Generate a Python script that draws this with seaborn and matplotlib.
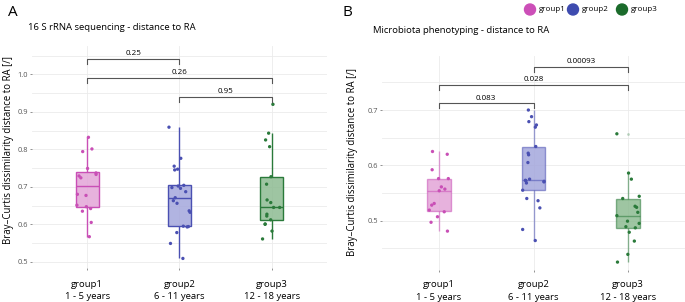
import numpy as np
import pandas as pd
import matplotlib
matplotlib.use("Agg")
import matplotlib.pyplot as plt
from matplotlib.ticker import FixedLocator
import seaborn as sns

# ---------------- data ----------------
groups = ["group1", "group2", "group3"]
tick_labels = ["group1\n1 - 5 years", "group2\n6 - 11 years", "group3\n12 - 18 years"]

a_group1 = [0.832, 0.801, 0.794, 0.749, 0.737, 0.733, 0.729, 0.724, 0.680, 0.677,
            0.651, 0.647, 0.642, 0.635, 0.605, 0.567]
a_group2 = [0.859, 0.776, 0.755, 0.747, 0.745, 0.704, 0.702, 0.698, 0.696, 0.687,
            0.671, 0.663, 0.656, 0.636, 0.632, 0.595, 0.594, 0.593, 0.578, 0.549, 0.509]
a_group3 = [0.920, 0.843, 0.825, 0.807, 0.727, 0.707, 0.665, 0.658, 0.645, 0.645,
            0.627, 0.622, 0.612, 0.601, 0.600, 0.582, 0.561]

b_group1 = [0.625, 0.620, 0.592, 0.576, 0.576, 0.561, 0.557, 0.554, 0.531, 0.528,
            0.519, 0.516, 0.507, 0.497, 0.481]
b_group2 = [0.700, 0.688, 0.679, 0.673, 0.669, 0.634, 0.622, 0.619, 0.605, 0.575,
            0.573, 0.572, 0.571, 0.570, 0.568, 0.555, 0.540, 0.536, 0.523, 0.484, 0.464]
b_group3 = [0.657, 0.586, 0.575, 0.544, 0.540, 0.526, 0.524, 0.515, 0.509, 0.499,
            0.495, 0.489, 0.487, 0.479, 0.463, 0.439, 0.425]

# pairwise p-values: (group i, group j, bracket height, label)
a_pairs = [(0, 1, 1.041, "0.25"), (0, 2, 0.990, "0.26"), (1, 2, 0.940, "0.95")]
b_pairs = [(1, 2, 0.778, "0.00093"), (0, 2, 0.745, "0.028"), (0, 1, 0.712, "0.083")]

titles = ["16 S rRNA sequencing - distance to RA", "Microbiota phenotyping - distance to RA"]
ylabel = "Bray\u2013Curtis dissimilarity distance to RA [/]"

line_colors = ["#C94FB6", "#4A50B2", "#2A7A3A"]
fill_colors = ["#E3A5D8", "#A4A7DC", "#8DBB92"]
legend_colors = ["#CC4FB8", "#3E4BAF", "#1B6B2B"]

FONT = ["Open Sans", "DejaVu Sans"]
plt.rcParams["font.family"] = FONT


def make_df(vals):
    rows = []
    for g, v in zip(groups, vals):
        for x in v:
            rows.append((g, x))
    return pd.DataFrame(rows, columns=["group", "value"])


dfA = make_df([a_group1, a_group2, a_group3])
dfB = make_df([b_group1, b_group2, b_group3])

W, H = 685, 302
fig = plt.figure(figsize=(W / 100, H / 100), dpi=100)
plt.rcParams["font.family"] = FONT


def px_axes(l, t, r, b):
    return fig.add_axes([l / W, 1 - b / H, (r - l) / W, (b - t) / H])


axA = px_axes(32, 46, 327, 268)
axB = px_axes(382, 56, 685, 270)


def draw(ax, df, pairs, ylim, major, minor, edge_alpha, seed, xpad):
    ax.set_facecolor("white")
    ax.set_axisbelow(True)
    n0 = len(ax.lines)
    sns.boxplot(data=df, x="group", y="value", order=groups, hue="group",
                hue_order=groups, palette=fill_colors, width=0.25, ax=ax,
                legend=False, linewidth=1.0, fliersize=2.0, showcaps=False)
    box_lines = ax.lines[n0:]
    per = len(box_lines) // 3
    for gi in range(3):
        for ln in box_lines[gi * per:(gi + 1) * per]:
            ln.set_color(line_colors[gi])
            ln.set_alpha(edge_alpha)
            if ln.get_marker() not in (None, "", "None"):
                ln.set_markerfacecolor(line_colors[gi])
                ln.set_markeredgecolor("none")
                ln.set_alpha(0.3)
    for gi, patch in enumerate(ax.patches[:3]):
        patch.set_edgecolor(matplotlib.colors.to_rgba(line_colors[gi], edge_alpha))
        patch.set_facecolor(matplotlib.colors.to_rgba(fill_colors[gi], 0.85))
    np.random.seed(seed)
    sns.stripplot(data=df, x="group", y="value", order=groups, hue="group",
                  hue_order=groups, palette=line_colors, jitter=0.12, size=2.4,
                  ax=ax, legend=False, zorder=4, linewidth=0)
    for (i, j, h, lab) in pairs:
        d = (ylim[1] - ylim[0]) * 0.022
        ax.plot([i, i, j, j], [h - d, h, h, h - d], color="#555555", lw=0.8,
                zorder=5, clip_on=False)
        ax.text((i + j) / 2, h + d * 0.35, lab, ha="center", va="bottom",
                fontsize=5.8, color="black", family=FONT)
    ax.set_xlim(-0.6, 2.6)
    ax.set_ylim(*ylim)
    ax.set_yticks(major)
    ax.set_yticklabels([f"{v:.1f}" for v in major])
    ax.yaxis.set_minor_locator(FixedLocator(minor))
    ax.set_xticks(range(3))
    ax.set_xticklabels(tick_labels, fontsize=6.8, color="black", linespacing=1.5)
    ax.grid(True, which="both", axis="y", color="#EBEBEB", lw=0.6)
    ax.grid(True, which="major", axis="x", color="#EBEBEB", lw=0.6)
    ax.tick_params(axis="y", which="minor", length=0)
    ax.tick_params(axis="y", length=1.5, width=0.5, color="#666666",
                   labelsize=5.4, labelcolor="#555555", pad=1.5)
    ax.tick_params(axis="x", length=1.5, width=0.5, color="#666666", pad=xpad)
    for s in ax.spines.values():
        s.set_visible(False)
    ax.set_xlabel("")
    ax.set_ylabel("")


draw(axA, dfA, a_pairs, (0.4835, 1.0755), [0.5, 0.6, 0.7, 0.8, 0.9, 1.0],
     [0.55, 0.65, 0.75, 0.85, 0.95, 1.05], 1.0, 3, 7)
draw(axB, dfB, b_pairs, (0.4107, 0.7977), [0.5, 0.6, 0.7],
     [0.45, 0.55, 0.65, 0.75], 0.55, 5, 6)

# panel letters, titles, y labels
fig.text(8 / W, 1 - 16 / H, "A", fontsize=11, family=FONT)
fig.text(343 / W, 1 - 16 / H, "B", fontsize=11, family=FONT)
fig.text(28 / W, 1 - 30 / H, titles[0], fontsize=6.8, family=FONT)
fig.text(373 / W, 1 - 33 / H, titles[1], fontsize=6.8, family=FONT)
fig.text(9 / W, 1 - 150 / H, ylabel, rotation=90, ha="center", va="center",
         fontsize=6.9, family=FONT)
fig.text(353 / W, 1 - 162 / H, ylabel, rotation=90, ha="center", va="center",
         fontsize=6.9, family=FONT)

# legend
lx = [530, 573, 622]
for gi in range(3):
    fig.patches.append(matplotlib.patches.Ellipse((lx[gi] / W, 1 - 9.5 / H),
                       11 / W, 11 / H, transform=fig.transFigure,
                       color=legend_colors[gi], figure=fig))
    fig.text((lx[gi] + 9) / W, 1 - 9.5 / H, groups[gi], fontsize=5.8,
             va="center", family=FONT)

fig.savefig("out.png", dpi=100)
